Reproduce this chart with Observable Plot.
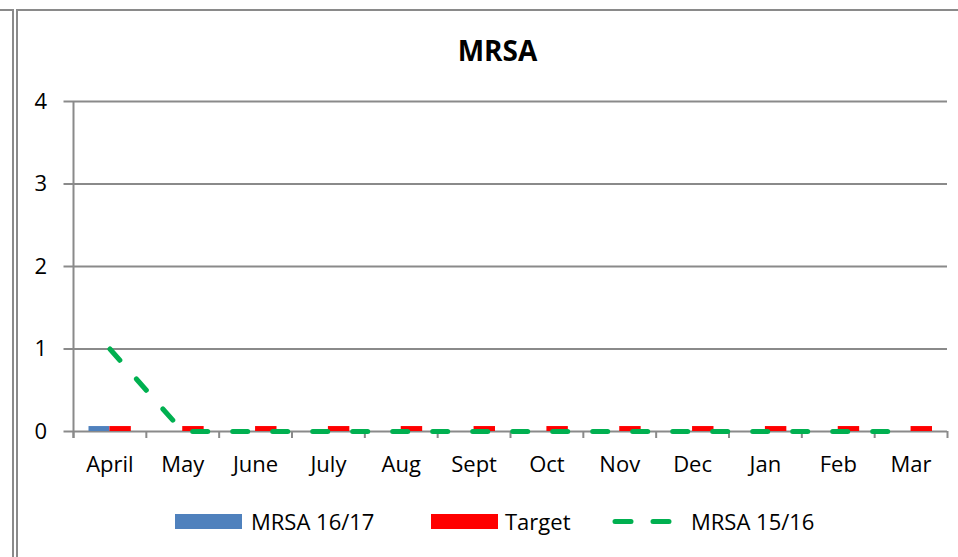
<!DOCTYPE html>
<html>
<head>
<meta charset="utf-8">
<script src="https://cdn.jsdelivr.net/npm/d3@7"></script>
<script src="https://cdn.jsdelivr.net/npm/@observablehq/plot@0.6"></script>
<style>
  html, body { margin: 0; padding: 0; background: #fff; }
  #wrap { position: relative; width: 958px; height: 557px; overflow: hidden; font-family: "Open Sans", sans-serif; }
  #chart { position: absolute; left: 0; top: 0; }
  #title { position: absolute; left: 0; width: 995px; top: 31px; text-align: center; font-weight: bold; font-size: 28px; color: #000; }
  .bl { position: absolute; background: #8a8a8a; }
  #legend { position: absolute; top: 505px; left: 0; width: 958px; height: 32px; font-size: 22px; color: #000; }
  .li { position: absolute; top: 0; white-space: nowrap; line-height: 32px; }
  .sw { position: absolute; top: 9px; width: 67px; height: 15px; }
</style>
</head>
<body>
<div id="wrap">
  <div class="bl" style="left:0;top:9px;width:14px;height:2px"></div>
  <div class="bl" style="left:12px;top:9px;width:2px;height:548px"></div>
  <div class="bl" style="left:16px;top:9px;width:942px;height:2px"></div>
  <div class="bl" style="left:16px;top:9px;width:2px;height:548px"></div>
  <div id="chart"></div>
  <div id="title">MRSA</div>
  <div id="legend"></div>
</div>
<script>
const months = ["April","May","June","July","Aug","Sept","Oct","Nov","Dec","Jan","Feb","Mar"];
const mrsa1617 = [0.06, null, null, null, null, null, null, null, null, null, null, null];
const target = [0.06, 0.06, 0.06, 0.06, 0.06, 0.06, 0.06, 0.06, 0.06, 0.06, 0.06, 0.06];
const mrsa1516 = [1, 0, 0, 0, 0, 0, 0, 0, 0, 0, 0, 0];
const yTicks = [0, 1, 2, 3, 4];
const seriesNames = ["MRSA 16/17", "Target", "MRSA 15/16"];
const seriesColors = ["#4F81BD", "#FF0000", "#00B050"];

const rows = months.map((m, i) => ({month: m, a: mrsa1617[i], t: target[i], b: mrsa1516[i]}));

const W = 958, H = 557, ML = 73, MR = 11;
const bw = (W - ML - MR) / months.length;
const gray = "#8a8a8a";

const chart = Plot.plot({
  width: W, height: H,
  marginLeft: ML, marginRight: MR, marginTop: 101, marginBottom: 126,
  style: {fontFamily: "Open Sans, sans-serif", fontSize: "22px", color: "#000", overflow: "visible", background: "transparent"},
  x: {type: "band", domain: months, paddingInner: 0, paddingOuter: 0, round: false, label: null},
  y: {domain: [0, 4], label: null},
  marks: [
    Plot.gridY(yTicks, {stroke: gray, strokeOpacity: 1, strokeWidth: 2}),
    Plot.ruleX([months[0]], {x: d => d, dx: -bw / 2, y1: 4, y2: -0.085, stroke: gray, strokeWidth: 2}),
    Plot.ruleX(months, {x: d => d, dx: -bw / 2, y1: 0, y2: -0.085, stroke: gray, strokeWidth: 2}),
    Plot.ruleX([months[months.length - 1]], {x: d => d, dx: bw / 2, y1: 0, y2: -0.085, stroke: gray, strokeWidth: 2}),
    Plot.axisY(yTicks, {tickSize: 9.5, tickPadding: 17, stroke: gray, strokeWidth: 2, fill: "#000", fontSize: 22, tickFormat: d3.format("d"), label: null}),
    Plot.axisX({tickSize: 0, tickPadding: 25, fill: "#000", fontSize: 22, label: null}),
    Plot.barY(rows, {x: "month", y: "a", fill: seriesColors[0], insetLeft: 15.5, insetRight: 36.4}),
    Plot.barY(rows, {x: "month", y: "t", fill: seriesColors[1], insetLeft: 36.4, insetRight: 15}),
    Plot.line(rows, {x: "month", y: "b", stroke: seriesColors[2], strokeWidth: 5, strokeDasharray: "15,25", strokeLinecap: "round"})
  ]
});
document.getElementById("chart").appendChild(chart);

// Legend
const legend = document.getElementById("legend");
const items = [
  {type: "swatch", x: 175, tx: 251},
  {type: "swatch", x: 431, tx: 505},
  {type: "dash", x: 612, tx: 691}
];
items.forEach((it, i) => {
  if (it.type === "swatch") {
    const s = document.createElement("div");
    s.className = "sw";
    s.style.left = it.x + "px";
    s.style.background = seriesColors[i];
    legend.appendChild(s);
  } else {
    const ns = "http://www.w3.org/2000/svg";
    const svg = document.createElementNS(ns, "svg");
    svg.setAttribute("width", 70); svg.setAttribute("height", 32);
    svg.style.position = "absolute"; svg.style.left = it.x + "px"; svg.style.top = "0px";
    const ln = document.createElementNS(ns, "line");
    ln.setAttribute("x1", 3); ln.setAttribute("x2", 66);
    ln.setAttribute("y1", 16.5); ln.setAttribute("y2", 16.5);
    ln.setAttribute("stroke", seriesColors[i]); ln.setAttribute("stroke-width", 5);
    ln.setAttribute("stroke-linecap", "round"); ln.setAttribute("stroke-dasharray", "16,22");
    svg.appendChild(ln);
    legend.appendChild(svg);
  }
  const t = document.createElement("div");
  t.className = "li";
  t.style.left = it.tx + "px";
  t.textContent = seriesNames[i];
  legend.appendChild(t);
});
</script>
</body>
</html>
